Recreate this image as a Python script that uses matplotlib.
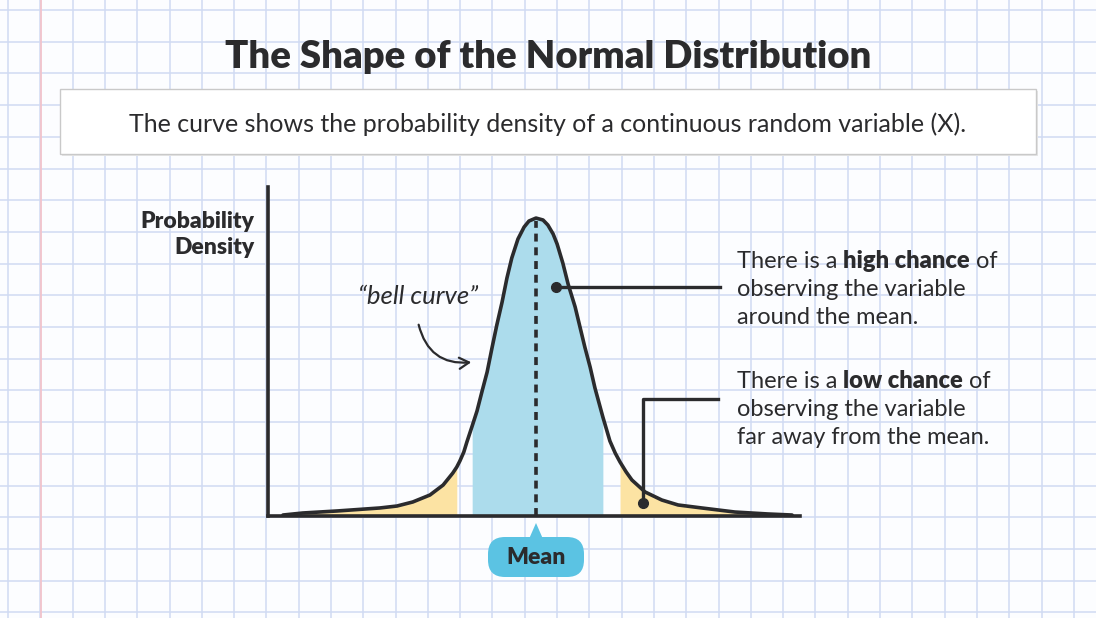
import numpy as np
import matplotlib.pyplot as plt
import matplotlib as mpl
from matplotlib.patches import FancyBboxPatch, Rectangle, Polygon, FancyArrowPatch

mpl.rcParams['font.family'] = ['Lato', 'DejaVu Sans']

# curve (x in std units from the mean, y = density)
curve_x = [-5.75, -5.30, -4.52, -3.89, -3.55, -3.16, -2.80, -2.41, -2.11, -1.89,
           -1.80, -1.73, -1.64, -1.57, -1.45, -1.34, -1.23, -1.11, -1.00, -0.89,
           -0.77, -0.66, -0.55, -0.41, -0.27, -0.16, 0.00,
           0.16, 0.27, 0.39, 0.48, 0.61, 0.73, 0.89, 1.00, 1.11, 1.23,
           1.34, 1.52, 1.68, 1.80, 1.91, 2.05, 2.18, 2.48, 2.86, 3.23,
           3.77, 4.52, 5.27, 5.82]
curve_y = [0.0013, 0.0040, 0.0067, 0.0093, 0.0107, 0.0133, 0.0187, 0.0280, 0.0413, 0.0573,
           0.0653, 0.0733, 0.0853, 0.0987, 0.1200, 0.1400, 0.1653, 0.1920, 0.2240, 0.2547,
           0.2853, 0.3173, 0.3440, 0.3693, 0.3853, 0.3933, 0.3973,
           0.3947, 0.3880, 0.3760, 0.3627, 0.3373, 0.3093, 0.2787, 0.2520, 0.2253, 0.1987,
           0.1707, 0.1320, 0.1000, 0.0840, 0.0720, 0.0587, 0.0480, 0.0320, 0.0213, 0.0147,
           0.0107, 0.0053, 0.0027, 0.0013]

# shaded bands
tail_left_end = -1.80
centre_band = (-1.45, 1.52)
tail_right_start = 1.91
mean_x = 0.0

title = 'The Shape of the Normal Distribution'
subtitle = 'The curve shows the probability density of a continuous random variable (X).'

dark = '#2b2b2d'
blue_fill = '#acdcec'
yellow_fill = '#fce3a3'
badge_blue = '#5bc3e3'
grid_col = '#d0dbf3'

W, H = 1096, 618
fig = plt.figure(figsize=(W / 100, H / 100), dpi=100)
fig.patch.set_facecolor('#fcfdff')

# graph paper background in pixel coords
bg = fig.add_axes([0, 0, 1, 1])
bg.set_xlim(0, W)
bg.set_ylim(H, 0)
bg.set_facecolor('#fcfdff')
bg.set_xticks(np.arange(8, W, 32.3))
bg.set_yticks(np.arange(10, H, 31.7))
bg.grid(True, color=grid_col, lw=1.1)
bg.tick_params(length=0, labelbottom=False, labelleft=False)
for s in bg.spines.values():
    s.set_visible(False)
bg.axvline(41, color='#f2c3cc', lw=1.3)

bg.text(W / 2, 57, title, ha='center', va='center', fontsize=27.5,
        fontweight='heavy', color=dark)

# subtitle box with a soft shadow
bg.add_patch(Rectangle((62, 91), 976, 65, facecolor='#e6e6e6', edgecolor='none', zorder=2))
bg.add_patch(Rectangle((60, 89), 976, 65, facecolor='white', edgecolor='#c9c9c9', lw=1, zorder=3))
bg.text(548, 124, subtitle, ha='center', va='center', fontsize=18, color=dark, zorder=4)

# chart axes
x0, x1, ytop, ybase = 268, 800, 187, 516
ax = fig.add_axes([x0 / W, (H - ybase) / H, (x1 - x0) / W, (ybase - ytop) / H])
ax.patch.set_alpha(0)
ax.set_xlim(-6.09, 6.0)
ax.set_ylim(0, 0.4387)
ax.set_xticks([])
ax.set_yticks([])
for s in ['top', 'right']:
    ax.spines[s].set_visible(False)
for s in ['left', 'bottom']:
    ax.spines[s].set_linewidth(2.6)
    ax.spines[s].set_color(dark)

cx = np.array(curve_x)
cy = np.array(curve_y)
ax.fill_between(cx, 0, cy, where=cx <= tail_left_end, color=yellow_fill, lw=0)
ax.fill_between(cx, 0, cy, where=(cx >= centre_band[0]) & (cx <= centre_band[1]),
                color=blue_fill, lw=0)
ax.fill_between(cx, 0, cy, where=cx >= tail_right_start, color=yellow_fill, lw=0)
ax.plot(cx, cy, color=dark, lw=2.6, solid_joinstyle='round', solid_capstyle='round')
ax.plot([mean_x, mean_x], [0, max(curve_y) - 0.004], color=dark, lw=2.6,
        ls=(0, (2.2, 1.6)))

# annotation leaders
ax.plot([0.45, 4.18], [0.305, 0.305], color=dark, lw=2.4, clip_on=False)
ax.plot(0.45, 0.305, 'o', color=dark, ms=7, clip_on=False)
ax.plot([2.43, 2.43, 4.14], [0.0173, 0.156, 0.156], color=dark, lw=2.4, clip_on=False)
ax.plot(2.43, 0.0173, 'o', color=dark, ms=7, clip_on=False)

# y label
bg.text(254, 221, 'Probability', ha='right', va='center', fontsize=16.5,
        fontweight='heavy', color=dark)
bg.text(254, 248, 'Density', ha='right', va='center', fontsize=16.5,
        fontweight='heavy', color=dark)

# bell curve note
bg.text(418, 296, '\u201cbell curve\u201d', ha='center', va='center', fontsize=18.5,
        style='italic', color=dark)
bg.add_patch(FancyArrowPatch((418, 322), (474, 362), connectionstyle='arc3,rad=0.45',
                             arrowstyle='->,head_length=7,head_width=4',
                             color=dark, lw=1.6, zorder=5))


def rich_line(x, y, parts):
    t = bg.text(x, y, parts[0][0], fontsize=17, color=dark, va='center',
                fontweight=parts[0][1])
    for txt, wt in parts[1:]:
        t = bg.annotate(txt, xycoords=t, xy=(1, 0), va='bottom', fontsize=17,
                        color=dark, fontweight=wt)


rich_line(737, 262, [('There is a ', 'normal'), ('high chance', 'heavy'), (' of', 'normal')])
rich_line(737, 290, [('observing the variable', 'normal')])
rich_line(737, 318, [('around the mean.', 'normal')])
rich_line(737, 382, [('There is a ', 'normal'), ('low chance', 'heavy'), (' of', 'normal')])
rich_line(737, 410, [('observing the variable', 'normal')])
rich_line(737, 438, [('far away from the mean.', 'normal')])

# Mean badge
bg.add_patch(FancyBboxPatch((488, 537), 96, 40, boxstyle='round,pad=0,rounding_size=17',
                            facecolor=badge_blue, edgecolor='none', zorder=5))
bg.add_patch(Polygon([(536, 523), (529, 539), (543, 539)], closed=True,
                     facecolor=badge_blue, edgecolor='none', zorder=5))
bg.text(536, 557, 'Mean', ha='center', va='center', fontsize=16.5, fontweight='heavy',
        color=dark, zorder=6)

fig.savefig('out.png', dpi=100, facecolor=fig.get_facecolor())
